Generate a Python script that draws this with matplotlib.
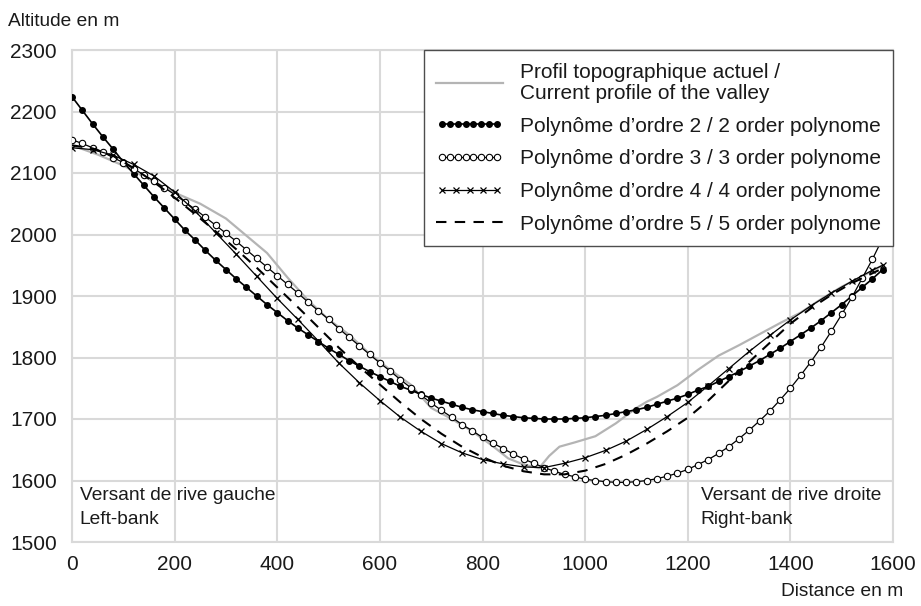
import numpy as np
import matplotlib
matplotlib.use("Agg")
import matplotlib.pyplot as plt
from matplotlib.legend_handler import HandlerLine2D

plt.rcParams['font.family'] = ['Liberation Sans', 'DejaVu Sans']

# ---- data ----
# current topographic profile
topo_x = [0, 50, 100, 150, 200, 250, 300, 340, 380, 420, 460, 500, 540, 580, 620,
          660, 700, 740, 780, 820, 850, 880, 910, 930, 950, 980, 1020, 1060, 1100, 1120,
          1140, 1180, 1220, 1260, 1300, 1340, 1380, 1420, 1460, 1500, 1540, 1580]
topo_y = [2145, 2130, 2112, 2090, 2068, 2050, 2026, 1998, 1970, 1930, 1893, 1862, 1837, 1806, 1780,
          1756, 1718, 1700, 1680, 1656, 1636, 1626, 1620, 1640, 1655, 1662, 1672, 1693, 1718, 1728,
          1736, 1755, 1780, 1803, 1820, 1838, 1856, 1873, 1895, 1915, 1932, 1950]

# polynomial fits, orders 2 and 3 sampled every 20 m
dense_x = list(range(0, 1581, 20))
poly2_y = [2224, 2202, 2180, 2159, 2139, 2118, 2099, 2080, 2061, 2043,
           2025, 2007, 1991, 1974, 1958, 1943, 1928, 1914, 1900, 1886,
           1873, 1860, 1848, 1837, 1826, 1815, 1805, 1795, 1786, 1777,
           1769, 1761, 1753, 1747, 1740, 1734, 1729, 1724, 1719, 1715,
           1712, 1709, 1706, 1704, 1702, 1701, 1700, 1700, 1700, 1701,
           1702, 1704, 1706, 1709, 1712, 1715, 1719, 1724, 1729, 1734,
           1740, 1747, 1753, 1761, 1769, 1777, 1786, 1795, 1805, 1815,
           1826, 1837, 1848, 1860, 1873, 1886, 1900, 1914, 1928, 1943]
poly3_y = [2154, 2148, 2141, 2134, 2125, 2117, 2107, 2097, 2087, 2076,
           2065, 2053, 2041, 2028, 2015, 2002, 1989, 1975, 1961, 1947,
           1933, 1919, 1905, 1890, 1876, 1862, 1847, 1833, 1819, 1805,
           1791, 1778, 1764, 1751, 1739, 1726, 1714, 1703, 1691, 1681,
           1670, 1661, 1652, 1643, 1635, 1628, 1621, 1615, 1610, 1606,
           1602, 1600, 1598, 1597, 1597, 1598, 1600, 1603, 1607, 1612,
           1618, 1626, 1634, 1644, 1655, 1668, 1682, 1697, 1713, 1731,
           1750, 1771, 1793, 1817, 1843, 1870, 1898, 1929, 1960, 1994]

# orders 4 and 5 sampled every 40 m
sparse_x = list(range(0, 1561, 40)) + [1580]
poly4_y = [2141, 2138, 2129, 2114, 2095, 2069, 2038, 2003, 1968, 1932,
           1896, 1862, 1827, 1791, 1759, 1730, 1703, 1680, 1660, 1645,
           1634, 1627, 1622, 1621, 1628, 1637, 1649, 1664, 1683, 1704,
           1727, 1754, 1782, 1810, 1836, 1861, 1884, 1905, 1924, 1942, 1950]
poly5_y = [2145, 2140, 2128, 2108, 2085, 2060, 2033, 2005, 1976, 1946,
           1914, 1882, 1849, 1816, 1785, 1756, 1727, 1700, 1676, 1655,
           1638, 1624, 1615, 1610, 1610, 1616, 1627, 1642, 1660, 1680,
           1702, 1730, 1762, 1793, 1824, 1855, 1880, 1902, 1921, 1937, 1945]

labels = ["Profil topographique actuel /\nCurrent profile of the valley",
          "Polynôme d\u2019ordre 2 / 2 order polynome",
          "Polynôme d\u2019ordre 3 / 3 order polynome",
          "Polynôme d\u2019ordre 4 / 4 order polynome",
          "Polynôme d\u2019ordre 5 / 5 order polynome"]

x_ticks = [0, 200, 400, 600, 800, 1000, 1200, 1400, 1600]
y_ticks = [1500, 1600, 1700, 1800, 1900, 2000, 2100, 2200, 2300]

text_col = '#1a1a1a'
grid_col = '#d9d9d9'

fig = plt.figure(figsize=(9.21, 6.06), dpi=100)
ax = fig.add_axes([72/921, 64/606, 821/921, 492/606])

l0, = ax.plot(topo_x, topo_y, color='#b4b4b4', lw=1.6, label=labels[0], zorder=2)
l2, = ax.plot(dense_x, poly2_y, color='black', lw=1.2, marker='o', ms=4.0,
              mfc='black', mec='black', label=labels[1], zorder=3)
l3, = ax.plot(dense_x, poly3_y, color='black', lw=0.9, marker='o', ms=4.6,
              mfc='white', mec='black', mew=0.8, label=labels[2], zorder=4)
l4, = ax.plot(sparse_x, poly4_y, color='black', lw=0.9, marker='x', ms=5,
              mew=0.9, label=labels[3], zorder=5)
l5, = ax.plot(sparse_x, poly5_y, color='black', lw=1.5, ls=(0, (5, 4)),
              label=labels[4], zorder=6)

ax.set_xlim(0, 1600)
ax.set_ylim(1500, 2300)
ax.set_xticks(x_ticks)
ax.set_yticks(y_ticks)
ax.tick_params(length=0, labelsize=15, colors=text_col)
ax.tick_params(axis='x', pad=9.5)
ax.tick_params(axis='y', pad=11)
ax.grid(True, color=grid_col, lw=1.5)
ax.set_axisbelow(True)
for s in ax.spines.values():
    s.set_color(grid_col)
    s.set_linewidth(1.5)

leg = ax.legend(handles=[l0, l2, l3, l4, l5], loc='upper right',
                bbox_to_anchor=(1.0, 1.0), borderaxespad=0.0,
                fontsize=15, handlelength=3.2, handletextpad=0.8,
                labelspacing=0.66, borderpad=0.6, fancybox=False,
                framealpha=1, edgecolor='#4d4d4d',
                handler_map={l2: HandlerLine2D(numpoints=8),
                             l3: HandlerLine2D(numpoints=8),
                             l4: HandlerLine2D(numpoints=5)})
leg.get_frame().set_linewidth(1.0)
for t in leg.get_texts():
    t.set_color(text_col)
    t.set_linespacing(1.15)

ax.text(15, 1575, "Versant de rive gauche", fontsize=13.8, color=text_col, va='center')
ax.text(15, 1536, "Left-bank", fontsize=13.8, color=text_col, va='center')
ax.text(1225, 1575, "Versant de rive droite", fontsize=13.8, color=text_col, va='center')
ax.text(1225, 1536, "Right-bank", fontsize=13.8, color=text_col, va='center')

fig.text(8/921, 1 - 22/606, "Altitude en m", fontsize=13.8, color=text_col,
         ha='left', va='center')
fig.text(903/921, 1 - 591/606, "Distance en m", fontsize=13.8, color=text_col,
         ha='right', va='center')

fig.savefig("out.png", dpi=100)
